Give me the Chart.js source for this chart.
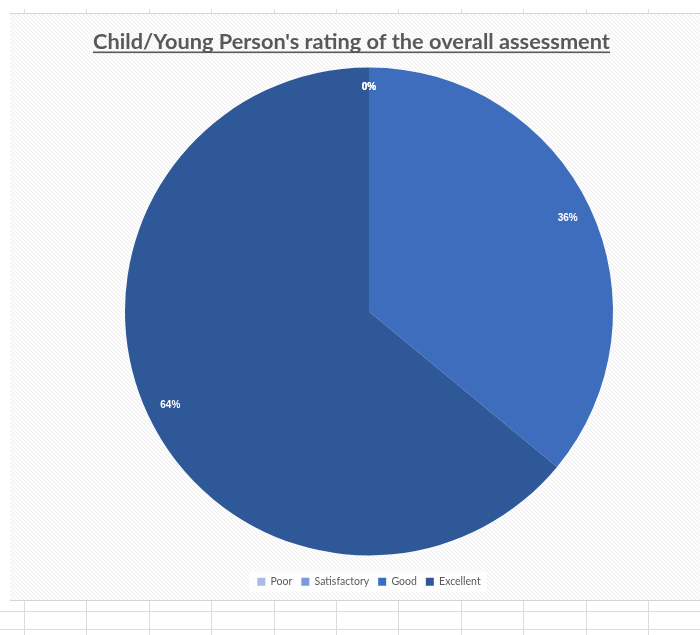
<!DOCTYPE html>
<html>
<head>
    <title>Child/Young Person's rating of the overall assessment</title>
    <script src="https://cdn.jsdelivr.net/npm/chart.js"></script>
    <style>
        html, body {
            margin: 0;
            padding: 0;
            background: #ffffff;
            overflow: hidden;
        }

        #sheet {
            position: absolute;
            left: 0;
            top: 0;
            width: 700px;
            height: 635px;
            background: #ffffff;
        }

        .ticks {
            position: absolute;
            left: 0;
            width: 700px;
            background: repeating-linear-gradient(90deg, transparent 0 24px, #dcdcdc 24px 25px, transparent 25px 62.4px);
        }

        .row {
            position: absolute;
            left: 0;
            width: 700px;
            height: 1px;
            background: #dcdcdc;
        }

        #area {
            position: absolute;
            left: 10px;
            top: 13px;
            width: 690px;
            height: 588px;
            border-top: 1px solid #d4d4d4;
            border-bottom: 1px solid #d4d4d4;
            box-sizing: border-box;
            background-color: #ffffff;
            background-image: url("data:image/svg+xml,%3Csvg xmlns='http://www.w3.org/2000/svg' width='4' height='4' shape-rendering='crispEdges'%3E%3Crect width='4' height='4' fill='%23fdfdfd'/%3E%3Cg fill='%23eeeeee'%3E%3Crect x='0' y='0' width='1' height='1'/%3E%3Crect x='1' y='1' width='1' height='1'/%3E%3Crect x='2' y='2' width='1' height='1'/%3E%3Crect x='3' y='3' width='1' height='1'/%3E%3C/g%3E%3C/svg%3E");
            background-size: 4px 4px;
        }

        canvas {
            position: absolute;
            left: 0;
            top: 0;
        }
    </style>
</head>
<body>
    <div id="sheet"></div>
    <div class="ticks" style="top:9px;height:4px"></div>
    <div class="ticks" style="top:600px;height:35px"></div>
    <div class="row" style="top:611px"></div>
    <div class="row" style="top:629px"></div>
    <div id="area"></div>
    <canvas id="ratingChart" width="700" height="635"></canvas>

    <script>
        const titleText = "Child/Young Person's rating of the overall assessment";
        const ratings = ['Poor', 'Satisfactory', 'Good', 'Excellent'];
        const shares = [0, 0, 36, 64];
        const sliceColors = ['#a9bce2', '#7b9ad8', '#3f6dbd', '#2f5899'];

        // title with underline, width fitted to the original
        const titlePlugin = {
            id: 'underlinedTitle',
            afterDraw(chart) {
                const ctx = chart.ctx;
                ctx.save();
                let size = 20;
                ctx.font = 'bold ' + size + 'px Lato';
                const w = ctx.measureText(titleText).width;
                size = size * 517 / w;
                ctx.font = 'bold ' + size + 'px Lato';
                ctx.fillStyle = '#595959';
                ctx.textAlign = 'center';
                ctx.textBaseline = 'alphabetic';
                ctx.fillText(titleText, 351.5, 49);
                ctx.fillRect(93, 51.5, 517, 1.6);
                ctx.restore();
            }
        };

        // percentage labels near the outer edge
        const labelPlugin = {
            id: 'pctLabels',
            afterDatasetsDraw(chart) {
                const ctx = chart.ctx;
                const meta = chart.getDatasetMeta(0);
                ctx.save();
                ctx.font = 'bold 10px "Liberation Sans"';
                ctx.fillStyle = '#ffffff';
                ctx.textAlign = 'center';
                ctx.textBaseline = 'middle';
                meta.data.forEach((arc, i) => {
                    const mid = (arc.startAngle + arc.endAngle) / 2;
                    const r = arc.outerRadius * (shares[i] === 0 ? 0.92 : 0.9);
                    const x = arc.x + Math.cos(mid) * r;
                    const y = arc.y + Math.sin(mid) * r;
                    ctx.fillText(shares[i] + '%', x, y);
                });
                ctx.restore();
            }
        };

        // light box behind the legend items
        const legendBoxPlugin = {
            id: 'legendBox',
            beforeDraw(chart) {
                const boxes = chart.legend && chart.legend.legendHitBoxes;
                if (!boxes || !boxes.length) return;
                const first = boxes[0];
                const last = boxes[boxes.length - 1];
                const ctx = chart.ctx;
                ctx.save();
                ctx.fillStyle = 'rgba(255,255,255,0.85)';
                ctx.fillRect(first.left - 8, first.top - 5, last.left + last.width - first.left + 14, first.height + 10);
                ctx.restore();
            }
        };

        const ctx = document.getElementById('ratingChart').getContext('2d');

        new Chart(ctx, {
            type: 'pie',
            data: {
                labels: ratings,
                datasets: [{
                    data: shares,
                    backgroundColor: sliceColors,
                    borderWidth: 0
                }]
            },
            options: {
                responsive: false,
                animation: false,
                layout: {
                    padding: { left: 125, right: 87, top: 67, bottom: 38 }
                },
                plugins: {
                    legend: {
                        position: 'bottom',
                        title: {
                            display: true,
                            text: ' ',
                            font: { size: 1 },
                            padding: { top: 0, bottom: 10.5 }
                        },
                        labels: {
                            color: '#595959',
                            boxWidth: 8,
                            boxHeight: 8,
                            padding: 9,
                            font: { family: 'Lato', size: 10.5 }
                        }
                    },
                    tooltip: { enabled: false },
                    title: { display: false }
                }
            },
            plugins: [titlePlugin, labelPlugin, legendBoxPlugin]
        });
    </script>
</body>
</html>
